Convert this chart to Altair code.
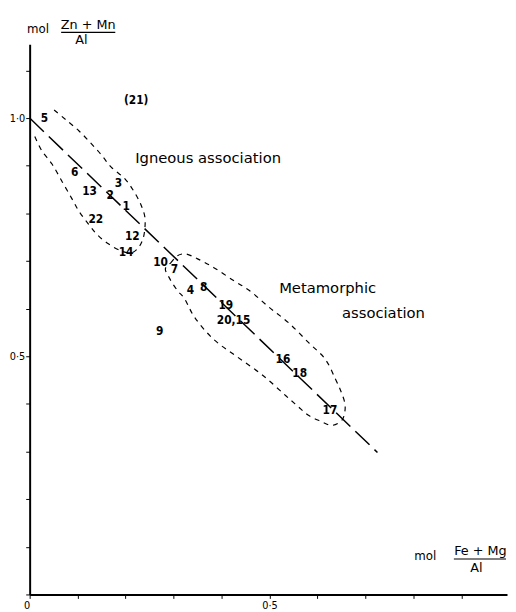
import altair as alt
import pandas as pd

# ---------------- data ----------------
sample_labels = ["5", "(21)", "6", "13", "2", "3", "1", "22", "12", "14",
                 "10", "7", "4", "8", "19", "20,15", "9", "16", "18", "17"]
sample_x = [0.031, 0.222, 0.094, 0.125, 0.168, 0.185, 0.201, 0.138, 0.214, 0.201,
            0.273, 0.302, 0.335, 0.363, 0.409, 0.425, 0.271, 0.528, 0.563, 0.626]
sample_y = [1.000, 1.037, 0.886, 0.847, 0.839, 0.864, 0.816, 0.789, 0.752, 0.719,
            0.698, 0.684, 0.640, 0.645, 0.607, 0.576, 0.552, 0.494, 0.465, 0.388]

trend_x = [0.0, 0.725]
trend_y = [1.0, 0.298]

igneous_x = [0.051, 0.076, 0.103, 0.127, 0.150, 0.170, 0.199, 0.218, 0.232, 0.240,
             0.240, 0.236, 0.226, 0.212, 0.191, 0.164, 0.140, 0.123, 0.103, 0.088,
             0.068, 0.047, 0.025, 0.010]
igneous_y = [1.017, 0.996, 0.973, 0.948, 0.922, 0.897, 0.872, 0.845, 0.818, 0.793,
             0.767, 0.746, 0.727, 0.717, 0.721, 0.736, 0.756, 0.777, 0.804, 0.831,
             0.866, 0.903, 0.932, 0.963]

meta_x = [0.294, 0.308, 0.324, 0.349, 0.384, 0.425, 0.458, 0.499, 0.540, 0.581,
          0.616, 0.637, 0.649, 0.657, 0.657, 0.651, 0.630, 0.606, 0.581, 0.559,
          0.534, 0.487, 0.431, 0.384, 0.343, 0.322, 0.308, 0.292, 0.283, 0.294]
meta_y = [0.696, 0.711, 0.715, 0.705, 0.686, 0.659, 0.638, 0.603, 0.570, 0.529,
          0.494, 0.453, 0.426, 0.401, 0.384, 0.366, 0.355, 0.364, 0.376, 0.395,
          0.417, 0.459, 0.500, 0.535, 0.583, 0.622, 0.638, 0.663, 0.684, 0.696]

annot_text = ["Igneous   association", "Metamorphic", "association"]
annot_x = [0.220, 0.520, 0.651]
annot_y = [0.917, 0.643, 0.591]

x_ticks = [0.0, 0.1, 0.2, 0.3, 0.4, 0.5, 0.6, 0.7, 0.8, 0.9]
y_ticks = [0.0, 0.1, 0.2, 0.3, 0.4, 0.5, 0.6, 0.7, 0.8, 0.9, 1.0, 1.1]

# ---------------- tables ----------------
pts = pd.DataFrame({"label": sample_labels, "x": sample_x, "y": sample_y})
trend = pd.DataFrame({"x": trend_x, "y": trend_y, "i": range(len(trend_x))})
ign = pd.DataFrame({"x": igneous_x, "y": igneous_y, "i": range(len(igneous_x))})
met = pd.DataFrame({"x": meta_x, "y": meta_y, "i": range(len(meta_x))})
ann = pd.DataFrame({"t": annot_text, "x": annot_x, "y": annot_y})
one = pd.DataFrame({"a": [0]})

NUM_FONT = "Liberation Sans Narrow, DejaVu Sans Condensed, Liberation Sans, sans-serif"
TXT_FONT = "DejaVu Sans"

xs = alt.Scale(domain=[0, 0.995], nice=False, zero=False)
ys = alt.Scale(domain=[0, 1.155], nice=False, zero=False)

x_axis = alt.Axis(
    values=x_ticks, title=None, grid=False,
    labelExpr="datum.value == 0 ? '0' : (abs(datum.value - 0.5) < 1e-9 ? '0·5' : '')",
    labelAlign={"condition": {"test": "datum.value == 0", "value": "right"}, "value": "center"},
    domainColor="black", domainWidth=2, tickColor="black", tickWidth=1, tickSize=4,
    labelColor="black", labelFont=NUM_FONT, labelFontSize=11, labelPadding=1,
    labelOverlap=False, labelFlush=False,
)
y_axis = alt.Axis(
    values=y_ticks, title=None, grid=False,
    labelExpr="datum.value == 1 ? '1·0' : (datum.value == 0.5 ? '0·5' : '')",
    domainColor="black", domainWidth=2, tickColor="black", tickWidth=1, tickSize=4,
    labelColor="black", labelFont=NUM_FONT, labelFontSize=11, labelPadding=1,
    labelOverlap=False,
)

base_axes = alt.Chart(trend).mark_line(
    color="black", strokeDash=[20, 7], strokeWidth=1.5
).encode(
    x=alt.X("x:Q", scale=xs, axis=x_axis),
    y=alt.Y("y:Q", scale=ys, axis=y_axis),
    order="i:Q",
)

ign_line = alt.Chart(ign).mark_line(
    color="black", strokeDash=[5, 5], strokeWidth=1.2, interpolate="catmull-rom"
).encode(x=alt.X("x:Q", scale=xs), y=alt.Y("y:Q", scale=ys), order="i:Q")

met_line = alt.Chart(met).mark_line(
    color="black", strokeDash=[5, 5], strokeWidth=1.2, interpolate="catmull-rom"
).encode(x=alt.X("x:Q", scale=xs), y=alt.Y("y:Q", scale=ys), order="i:Q")

labels = alt.Chart(pts).mark_text(
    font=NUM_FONT, fontSize=12, fontWeight="bold", color="black",
    align="center", baseline="middle"
).encode(x=alt.X("x:Q", scale=xs), y=alt.Y("y:Q", scale=ys), text="label:N")

annots = alt.Chart(ann).mark_text(
    font=TXT_FONT, fontSize=15, color="black", align="left", baseline="middle"
).encode(x=alt.X("x:Q", scale=xs), y=alt.Y("y:Q", scale=ys), text="t:N")

# axis titles drawn as fractions
def txt(s, x, y, size=13, align="center"):
    return alt.Chart(one).mark_text(
        text=s, font=TXT_FONT, fontSize=size, color="black",
        align=align, baseline="middle"
    ).encode(x=alt.value(x), y=alt.value(y))

def bar(x1, x2, y):
    return alt.Chart(one).mark_rule(color="black", strokeWidth=1.2).encode(
        x=alt.value(x1), x2=alt.value(x2), y=alt.value(y))

titles = [
    txt("mol", 8.5, -15, 12), txt("Zn + Mn", 59.5, -20, 13), bar(32, 87, -12), txt("Al", 52.5, -4, 13),
    txt("mol", 402, 520, 12), txt("Fe + Mg", 458, 515, 13), bar(431, 484, 523), txt("Al", 454, 532, 13),
]

chart = alt.layer(base_axes, ign_line, met_line, labels, annots, *titles).properties(
    width=485, height=559,
    padding={"left": 22, "top": 32, "right": 1, "bottom": 13},
    autosize=alt.AutoSizeParams(type="none"),
).configure_view(stroke=None)

chart.save("out.html", embed_options={"renderer": "svg", "actions": False})
